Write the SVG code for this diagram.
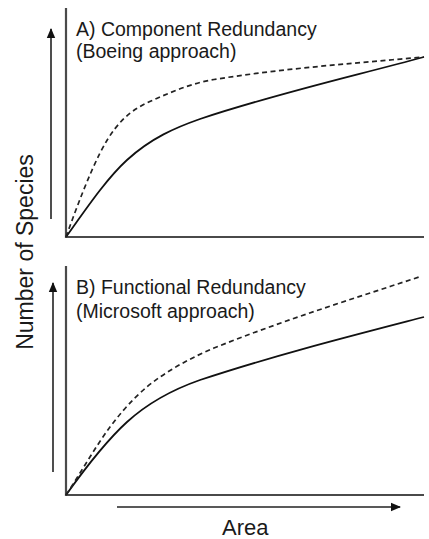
<svg xmlns="http://www.w3.org/2000/svg" width="429" height="539" viewBox="0 0 429 539">
<defs>
<marker id="ah" markerWidth="10" markerHeight="10" refX="9" refY="5" orient="auto" markerUnits="userSpaceOnUse">
<path d="M0,0.8 L10,5 L0,9.2 Z" fill="#111"/>
</marker>
</defs>
<style>
.t{font-family:"Liberation Sans",Arial,sans-serif;fill:#1a1a1a}
.axis{stroke:#4a4a4a;stroke-width:2.2;fill:none}
.arr{stroke:#222;stroke-width:1.6;fill:none}
.sol{stroke:#111;stroke-width:1.8;fill:none}
.dsh{stroke:#222;stroke-width:1.7;fill:none;stroke-dasharray:5 3.5}
</style>
<rect width="429" height="539" fill="#fff"/>
<g id="panelA">
<text class="t" x="76" y="36" font-size="19.5">A) Component Redundancy</text>
<text class="t" x="76" y="58" font-size="19.5">(Boeing approach)</text>
<path class="axis" d="M66,8 V237 H424"/>
</g>
<g id="panelB">
<text class="t" x="76" y="294" font-size="19.5">B) Functional Redundancy</text>
<text class="t" x="76" y="318" font-size="19.5">(Microsoft approach)</text>
<path class="axis" d="M66,266 V495 H424"/>
</g>
<g id="labels">
<text class="t" font-size="23" text-anchor="middle" transform="translate(33,252) rotate(-90)">Number of Species</text>
<text class="t" x="222" y="535" font-size="22">Area</text>
</g>
<g id="connectors">
<line class="arr" x1="51" y1="219" x2="51" y2="29" marker-end="url(#ah)"/>
<line class="arr" x1="53" y1="472" x2="53" y2="283" marker-end="url(#ah)"/>
<line class="arr" x1="117" y1="507" x2="400" y2="507" marker-end="url(#ah)"/>
<path class="sol" d="M66,237 C86.3,208.6 106.7,178.5 127,160 C151.3,137.9 175.7,127.5 200,119 C274.7,94 349.3,77.2 424,57"/>
<path class="dsh" d="M66,237 C77.3,205.4 88.7,175.6 100,153 C120,113 140,105.8 160,97 C178,89.1 196,82.4 214,79.5 C284,68.3 354,63.3 424,57"/>
<path class="sol" d="M66,495 C86.3,466.6 106.7,440.5 127,422 C151.3,399.9 175.7,388.5 200,380 C274.7,355.3 349.3,336.4 424,317"/>
<path class="dsh" d="M66,495 C80.7,473 95.3,446.8 110,427 C126.7,404.5 143.3,388.4 160,377 C178,364.8 196,355.6 214,348 C282.3,320.7 350.7,299.5 419,277"/>
</g>
</svg>
